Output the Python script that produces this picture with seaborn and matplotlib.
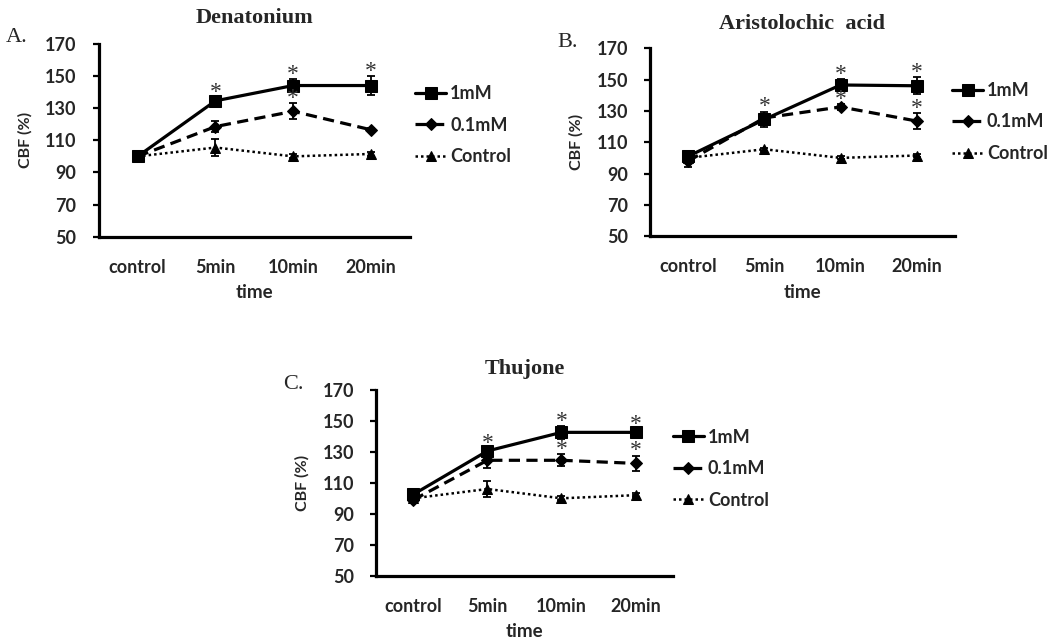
import numpy as np
import pandas as pd
import matplotlib
matplotlib.use("Agg")
import matplotlib.pyplot as plt
import seaborn as sns

# ---- data ----
times = ["control", "5min", "10min", "20min"]
groups = ["1mM", "0.1mM", "Control"]

# Denatonium
den_1mM = [100, 134.5, 144, 144]
den_01mM = [100, 118.5, 128, 116.5]
den_ctrl = [100, 105.5, 100, 101.5]
den_1mM_err = [1, 2, 4, 6]
den_01mM_err = [1, 3.5, 5, 1]
den_ctrl_err = [1, 5.5, 1.2, 1.2]
den_star_1mM = [False, True, True, True]
den_star_01mM = [False, False, True, False]

# Aristolochic acid
ari_1mM = [101, 124.5, 146.5, 146]
ari_01mM = [98, 125.5, 132.5, 123.5]
ari_ctrl = [100, 105.5, 100, 101.5]
ari_1mM_err = [2, 5, 4, 5.5]
ari_01mM_err = [3.5, 2, 2, 5]
ari_ctrl_err = [1, 1, 1, 1]
ari_star_1mM = [False, True, True, True]
ari_star_01mM = [False, False, True, True]

# Thujone
thu_1mM = [102.5, 130.5, 142.5, 142.5]
thu_01mM = [99, 124.5, 124.5, 122.5]
thu_ctrl = [100, 106, 100, 102]
thu_1mM_err = [2, 2, 4, 2]
thu_01mM_err = [2, 5, 4, 5]
thu_ctrl_err = [1, 5, 1.2, 1.2]
thu_star_1mM = [False, True, True, True]
thu_star_01mM = [False, False, True, True]

# axes rect, legend anchor, title pad
panels = [
    ("Denatonium", "A.", den_1mM, den_01mM, den_ctrl, den_1mM_err, den_01mM_err, den_ctrl_err,
     den_star_1mM, den_star_01mM, [0.094, 0.631, 0.296, 0.301], (1.016, 0.785), 15),
    ("Aristolochic  acid", "B.", ari_1mM, ari_01mM, ari_ctrl, ari_1mM_err, ari_01mM_err, ari_ctrl_err,
     ari_star_1mM, ari_star_01mM, [0.6185, 0.632, 0.290, 0.293], (0.99, 0.82), 13.5),
    ("Thujone", "C.", thu_1mM, thu_01mM, thu_ctrl, thu_1mM_err, thu_01mM_err, thu_ctrl_err,
     thu_star_1mM, thu_star_01mM, [0.358, 0.103, 0.282, 0.290], (1.0, 0.79), 11),
]

sns.set_style("white")
plt.rcParams['font.family'] = ['Lato', 'DejaVu Sans']

W, H = 10.51, 6.42
fig = plt.figure(figsize=(W, H), dpi=100)

markers = {"1mM": "s", "0.1mM": "D", "Control": "^"}
dashes = {"1mM": "", "0.1mM": (3.5, 2), "Control": (1, 1.2)}
msizes = {"1mM": 9, "0.1mM": 6, "Control": 7.5}
lws = {"1mM": 2.3, "0.1mM": 2.3, "Control": 1.8}

for (title, letter, v1, v01, vc, e1, e01, ec, s1, s01, pos, leg_anchor, tpad) in panels:
    ax = fig.add_axes(pos)
    df = pd.DataFrame({
        "time": times * 3,
        "CBF": v1 + v01 + vc,
        "group": ["1mM"] * 4 + ["0.1mM"] * 4 + ["Control"] * 4,
    })
    x = np.arange(len(times))
    # error bars first so lines/markers sit on top
    for vals, errs in [(v1, e1), (v01, e01), (vc, ec)]:
        ax.errorbar(x, vals, yerr=errs, fmt="none", ecolor="black",
                    elinewidth=1.3, capsize=3, capthick=1.3, zorder=1)
    for g in groups:
        sub = df[df["group"] == g]
        sns.lineplot(data=sub, x="time", y="CBF", ax=ax, color="black",
                     marker=markers[g], markersize=msizes[g], markeredgecolor="black",
                     linewidth=lws[g], dashes=dashes[g] if dashes[g] else (None, None),
                     label=g, zorder=3)
    # significance stars
    for vals, errs, stars in [(v1, e1, s1), (v01, e01, s01)]:
        for i, flag in enumerate(stars):
            if flag:
                ax.text(x[i], vals[i] + errs[i] + 3, "*", ha="center", va="center",
                        fontsize=17, family="Liberation Serif", color="#333333", zorder=4)

    ax.set_xlim(-0.5, 3.5)
    ax.set_ylim(50, 170)
    ax.set_yticks(range(50, 171, 20))
    ax.set_xticks(x)
    ax.set_xticklabels(times)
    for lab in ax.get_xticklabels() + ax.get_yticklabels():
        lab.set_fontweight("bold")
        lab.set_fontsize(13)
    ax.tick_params(axis="x", length=0, pad=16)
    ax.tick_params(axis="y", length=4, width=1.6, direction="out", color="black", pad=12, left=True)
    ax.set_xlabel("time", fontsize=13.5, fontweight="bold", labelpad=6)
    ax.set_ylabel("CBF (%)", fontsize=11.5, fontweight="bold", labelpad=9)
    for sp in ["top", "right"]:
        ax.spines[sp].set_visible(False)
    for sp in ["left", "bottom"]:
        ax.spines[sp].set_linewidth(2.3)
        ax.spines[sp].set_color("black")

    handles, labels = ax.get_legend_handles_labels()
    ax.legend(handles, labels, loc="upper left", bbox_to_anchor=leg_anchor,
              frameon=False, handlelength=1.75, handletextpad=0.2,
              borderpad=0, borderaxespad=0, labelspacing=0.8,
              prop={"family": "Lato", "weight": "bold", "size": 13})

    ax.set_title(title, family="Liberation Serif", fontweight="bold", fontsize=16, pad=tpad)
    ax_w_px = pos[2] * W * 100
    ax.text(-93 / ax_w_px, 1.03, letter, transform=ax.transAxes, family="Liberation Serif",
            fontsize=16, ha="left", va="center")

fig.savefig("out.png", dpi=100)
